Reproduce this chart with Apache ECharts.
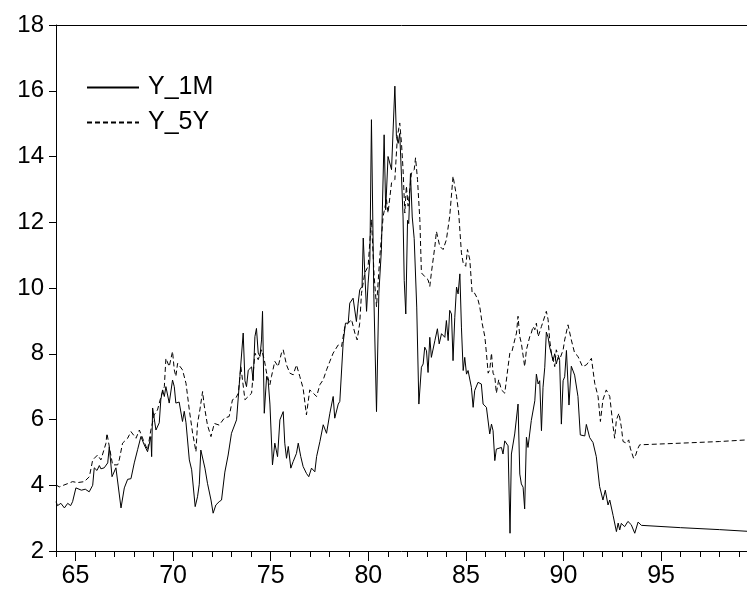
<!DOCTYPE html>
<html>
<head>
<meta charset="utf-8">
<script src="https://cdn.jsdelivr.net/npm/echarts@6/dist/echarts.min.js"></script>
<style>
  html, body { margin: 0; padding: 0; background: #fff; }
  #chart { width: 747px; height: 592px; }
</style>
</head>
<body>
<div id="chart"></div>
<script>
// Y_1M: years (decimal) and rates
var m1Year = [64.00, 64.08, 64.25, 64.43, 64.60, 64.75, 64.85, 65.02, 65.30, 65.50, 65.70, 65.88, 65.96, 66.10, 66.22, 66.30, 66.47, 66.65, 66.73, 66.87,
  67.07, 67.16, 67.33, 67.50, 67.67, 67.84, 68.01, 68.18, 68.35, 68.52, 68.69, 68.86, 68.90, 68.95, 69.12, 69.29, 69.37, 69.46, 69.55, 69.63,
  69.80, 69.97, 70.06, 70.14, 70.31, 70.48, 70.57, 70.66, 70.83, 70.95, 71.13, 71.25, 71.34, 71.42, 71.51, 71.63, 71.76, 71.94, 72.05, 72.19,
  72.36, 72.48, 72.65, 72.82, 72.99, 73.25, 73.42, 73.59, 73.68, 73.76, 73.85, 74.02, 74.10, 74.19, 74.27, 74.36, 74.45, 74.53, 74.58, 74.67,
  74.79, 74.87, 74.96, 75.09, 75.21, 75.35, 75.47, 75.64, 75.72, 75.81, 75.90, 76.03, 76.15, 76.32, 76.41, 76.54, 76.66, 76.83, 76.95, 77.09,
  77.26, 77.35, 77.52, 77.69, 77.86, 78.03, 78.20, 78.28, 78.46, 78.54, 78.71, 78.83, 78.97, 79.05, 79.22, 79.31, 79.39, 79.48, 79.56, 79.68,
  79.74, 79.82, 79.91, 79.99, 80.08, 80.16, 80.28, 80.42, 80.54, 80.67, 80.81, 80.89, 81.01, 81.10, 81.19, 81.36, 81.44, 81.53, 81.61, 81.70,
  81.78, 81.84, 81.92, 82.01, 82.07, 82.16, 82.25, 82.35, 82.42, 82.48, 82.59, 82.72, 82.81, 82.89, 82.98, 83.06, 83.15, 83.23, 83.41, 83.54,
  83.63, 83.75, 83.92, 84.00, 84.09, 84.17, 84.26, 84.34, 84.43, 84.52, 84.60, 84.69, 84.77, 84.86, 84.94, 85.03, 85.11, 85.28, 85.37, 85.45,
  85.62, 85.79, 85.88, 86.05, 86.22, 86.31, 86.39, 86.48, 86.56, 86.82, 86.90, 86.99, 87.16, 87.26, 87.33, 87.42, 87.50, 87.67, 87.76, 87.84,
  87.93, 88.01, 88.10, 88.18, 88.35, 88.53, 88.61, 88.70, 88.78, 88.87, 88.95, 89.04, 89.12, 89.21, 89.29, 89.38, 89.46, 89.55, 89.63, 89.72,
  89.80, 89.89, 89.98, 90.06, 90.15, 90.28, 90.40, 90.57, 90.74, 90.86, 91.09, 91.17, 91.34, 91.51, 91.68, 91.85, 92.02, 92.14, 92.28, 92.37,
  92.54, 92.71, 92.80, 92.88, 92.96, 93.13, 93.30, 93.47, 93.65, 93.82, 93.99, 96.00, 98.00, 99.40];
var m1Rate = [3.50, 3.38, 3.45, 3.31, 3.45, 3.38, 3.50, 3.92, 3.85, 3.88, 3.80, 4.00, 4.53, 4.45, 4.60, 4.50, 4.53, 4.68, 5.17, 4.26,
  4.53, 4.48, 3.31, 3.92, 4.18, 4.20, 4.68, 5.08, 5.48, 5.23, 5.02, 5.48, 4.87, 6.35, 5.68, 5.90, 6.60, 6.90, 6.70, 7.00,
  6.50, 7.20, 7.00, 6.50, 6.53, 5.94, 6.25, 5.90, 4.77, 4.47, 3.35, 3.65, 4.03, 5.07, 5.07, 4.52, 4.06, 3.55, 3.15, 3.40,
  3.50, 3.55, 4.40, 4.92, 5.58, 5.99, 7.31, 8.63, 7.18, 7.00, 7.50, 7.60, 7.18, 8.52, 8.77, 8.02, 7.92, 8.42, 9.29, 6.19,
  7.31, 7.18, 6.47, 4.62, 5.28, 4.87, 5.99, 6.24, 5.28, 4.82, 5.18, 4.52, 4.72, 4.97, 5.28, 4.87, 4.57, 4.36, 4.26, 4.52,
  4.41, 4.87, 5.33, 5.84, 5.58, 6.19, 6.70, 6.04, 6.47, 6.55, 8.32, 8.93, 8.93, 9.54, 9.69, 9.64, 8.98, 9.54, 9.94, 10.05,
  11.52, 10.46, 9.29, 10.15, 10.86, 15.12, 9.84, 6.24, 9.84, 11.16, 14.66, 12.38, 14.00, 13.95, 13.60, 16.14, 14.61, 14.40, 14.70, 13.38,
  12.16, 10.23, 9.21, 12.06, 11.96, 13.48, 12.16, 11.50, 11.45, 9.42, 6.47, 7.59, 7.69, 8.20, 8.09, 7.43, 8.50, 7.89, 8.40, 8.76,
  8.30, 8.61, 8.50, 9.01, 8.40, 9.32, 9.21, 7.79, 9.11, 10.03, 9.82, 10.43, 8.81, 7.49, 7.89, 7.38, 7.49, 6.98, 6.37, 6.88,
  7.13, 7.08, 6.47, 6.37, 5.56, 5.86, 5.66, 4.75, 5.10, 5.15, 4.95, 5.35, 5.20, 2.54, 4.95, 4.95, 5.56, 6.47, 4.34, 4.04,
  3.94, 3.28, 5.46, 5.15, 5.97, 6.57, 7.38, 7.08, 7.18, 5.66, 6.98, 7.59, 8.66, 8.50, 8.20, 8.00, 7.79, 8.00, 7.69, 7.89,
  7.80, 5.86, 7.18, 7.30, 8.10, 6.44, 7.62, 7.35, 6.70, 5.53, 5.50, 5.85, 5.45, 5.30, 4.87, 3.96, 3.55, 3.85, 3.40, 3.55,
  3.08, 2.59, 2.85, 2.64, 2.84, 2.74, 2.90, 2.80, 2.54, 2.88, 2.78, 2.71, 2.65, 2.60];

// Y_5Y: years (decimal) and rates
var y5Year = [64.00, 64.17, 64.34, 64.60, 64.85, 65.10, 65.45, 65.71, 65.88, 66.13, 66.30, 66.56, 66.61, 66.73, 66.90, 67.16, 67.24, 67.41, 67.67, 67.84,
  68.10, 68.27, 68.47, 68.69, 68.86, 69.03, 69.20, 69.38, 69.55, 69.63, 69.80, 69.97, 70.06, 70.14, 70.23, 70.48, 70.66, 70.83, 71.00, 71.17,
  71.25, 71.37, 71.51, 71.59, 71.76, 71.94, 72.11, 72.36, 72.62, 72.87, 73.04, 73.21, 73.34, 73.47, 73.68, 74.02, 74.19, 74.36, 74.53, 74.67,
  74.79, 74.96, 75.04, 75.21, 75.38, 75.55, 75.64, 75.81, 75.98, 76.15, 76.32, 76.49, 76.66, 76.83, 76.92, 77.00, 77.18, 77.35, 77.52, 77.69,
  77.86, 78.03, 78.20, 78.46, 78.63, 78.80, 78.97, 79.14, 79.31, 79.43, 79.56, 79.65, 79.82, 79.99, 80.16, 80.30, 80.42, 80.59, 80.76, 80.93,
  81.01, 81.19, 81.36, 81.49, 81.61, 81.70, 81.78, 81.87, 81.95, 82.04, 82.21, 82.35, 82.42, 82.52, 82.64, 82.72, 82.89, 83.06, 83.15, 83.23,
  83.41, 83.49, 83.66, 83.83, 84.00, 84.17, 84.34, 84.52, 84.63, 84.77, 84.86, 84.99, 85.08, 85.20, 85.32, 85.45, 85.62, 85.71, 85.83, 85.97,
  86.05, 86.14, 86.22, 86.31, 86.39, 86.48, 86.56, 86.68, 86.82, 86.99, 87.16, 87.25, 87.36, 87.50, 87.59, 87.67, 87.76, 87.84, 88.01, 88.10,
  88.27, 88.35, 88.44, 88.53, 88.61, 88.70, 88.87, 89.04, 89.12, 89.21, 89.29, 89.38, 89.55, 89.63, 89.80, 89.98, 90.06, 90.23, 90.40, 90.57,
  90.74, 90.97, 91.17, 91.43, 91.60, 91.77, 91.89, 92.02, 92.19, 92.37, 92.54, 92.62, 92.71, 92.84, 92.96, 93.05, 93.22, 93.34, 93.42, 93.59,
  93.70, 93.78, 93.90, 96.00, 98.00, 99.40];
var y5Rate = [4.01, 3.95, 3.99, 4.05, 4.11, 4.08, 4.11, 4.26, 4.77, 4.92, 4.77, 5.28, 5.58, 5.18, 4.62, 4.62, 4.77, 5.28, 5.43, 5.63,
  5.43, 5.68, 5.38, 5.07, 5.68, 6.14, 6.29, 6.70, 7.00, 7.86, 7.61, 8.07, 7.51, 7.31, 7.71, 7.51, 7.10, 6.29, 5.58, 5.02,
  5.88, 6.29, 6.85, 6.44, 5.83, 5.48, 5.88, 5.83, 6.04, 6.09, 6.60, 6.65, 6.80, 7.61, 6.60, 6.80, 8.02, 7.82, 8.12, 7.82,
  7.41, 7.06, 7.31, 7.77, 7.61, 8.02, 8.12, 7.66, 7.41, 7.36, 7.66, 7.31, 6.95, 6.14, 6.19, 6.90, 6.80, 6.70, 7.06, 7.21,
  7.51, 7.77, 8.02, 8.27, 8.22, 8.83, 8.93, 9.04, 8.63, 8.42, 8.93, 9.84, 10.46, 10.66, 12.08, 10.35, 9.43, 10.96, 12.18, 12.69,
  12.28, 13.20, 13.30, 14.61, 15.02, 14.40, 13.60, 12.28, 13.10, 12.49, 13.50, 13.60, 13.96, 13.30, 12.08, 10.46, 10.35, 10.25, 10.05, 10.46,
  11.27, 11.72, 11.27, 11.17, 11.47, 12.18, 13.40, 12.79, 12.28, 11.07, 10.76, 10.66, 11.17, 10.86, 9.84, 9.84, 9.64, 9.43, 8.93, 8.52,
  8.02, 7.41, 7.51, 8.02, 7.41, 7.31, 6.80, 7.21, 6.90, 6.80, 7.61, 8.02, 8.07, 8.42, 8.63, 9.14, 8.52, 8.32, 7.61, 8.12,
  8.52, 8.63, 8.83, 8.73, 8.93, 8.52, 8.83, 9.14, 9.29, 9.04, 8.42, 8.02, 7.61, 8.12, 7.82, 8.12, 8.42, 8.88, 8.42, 8.02,
  7.92, 7.61, 7.66, 7.86, 7.10, 6.70, 5.94, 6.60, 6.90, 6.70, 5.78, 5.43, 5.99, 6.19, 5.78, 5.33, 5.28, 5.38, 5.13, 4.82,
  4.92, 5.08, 5.23, 5.28, 5.33, 5.38];

var xLabelValues = [65, 70, 75, 80, 85, 90, 95];
var yMin = 2, yMax = 18, yStep = 2;

function pairs(xs, ys) {
  return xs.map(function (x, i) { return [x, ys[i]]; });
}

var font = '"Liberation Sans", Arial, sans-serif';
var xMin = 64, xMax = 99.4;

var chart = echarts.init(document.getElementById('chart'));
chart.setOption({
  animation: false,
  backgroundColor: '#fff',
  grid: { left: 56, right: 0, top: 25, bottom: 41 },
  legend: {
    orient: 'vertical',
    left: 86,
    top: 75,
    padding: 0,
    itemWidth: 52,
    itemHeight: 24,
    itemGap: 10,
    itemStyle: { opacity: 0 },
    textStyle: { fontSize: 25, color: '#000', fontFamily: font, padding: [0, 0, 0, 4] },
    data: ['Y_1M', 'Y_5Y']
  },
  xAxis: [
    {
      type: 'value', min: xMin, max: xMax, interval: 1,
      axisLine: { lineStyle: { color: '#000', width: 1 } },
      axisTick: { length: 6, lineStyle: { color: '#000' } },
      axisLabel: { show: false },
      splitLine: { show: false }
    },
    {
      type: 'value', min: xMin, max: xMax, position: 'top',
      axisLine: { show: true, onZero: false, lineStyle: { color: '#000', width: 1 } },
      axisTick: { show: false }, axisLabel: { show: false }, splitLine: { show: false }
    },
    {
      type: 'value', min: xMin, max: xMax, position: 'bottom',
      axisLine: { show: false },
      axisTick: { show: true, length: 10, customValues: xLabelValues, lineStyle: { color: '#000' } },
      axisLabel: { customValues: xLabelValues, fontSize: 25, color: '#000', fontFamily: font, margin: 13 },
      splitLine: { show: false }
    }
  ],
  yAxis: {
    type: 'value', min: yMin, max: yMax, interval: yStep,
    axisLine: { show: true, lineStyle: { color: '#000', width: 1 } },
    axisTick: { show: true, length: 7, lineStyle: { color: '#000' } },
    axisLabel: { fontSize: 24, color: '#000', fontFamily: font, margin: 12 },
    splitLine: { show: false }
  },
  series: [
    {
      name: 'Y_1M', type: 'line', xAxisIndex: 0, symbol: 'none',
      lineStyle: { color: '#000', width: 1 },
      itemStyle: { color: '#000' },
      data: pairs(m1Year, m1Rate)
    },
    {
      name: 'Y_5Y', type: 'line', xAxisIndex: 0, symbol: 'none',
      lineStyle: { color: '#000', width: 1, type: [5, 3] },
      itemStyle: { color: '#000' },
      data: pairs(y5Year, y5Rate)
    }
  ]
});
</script>
</body>
</html>
